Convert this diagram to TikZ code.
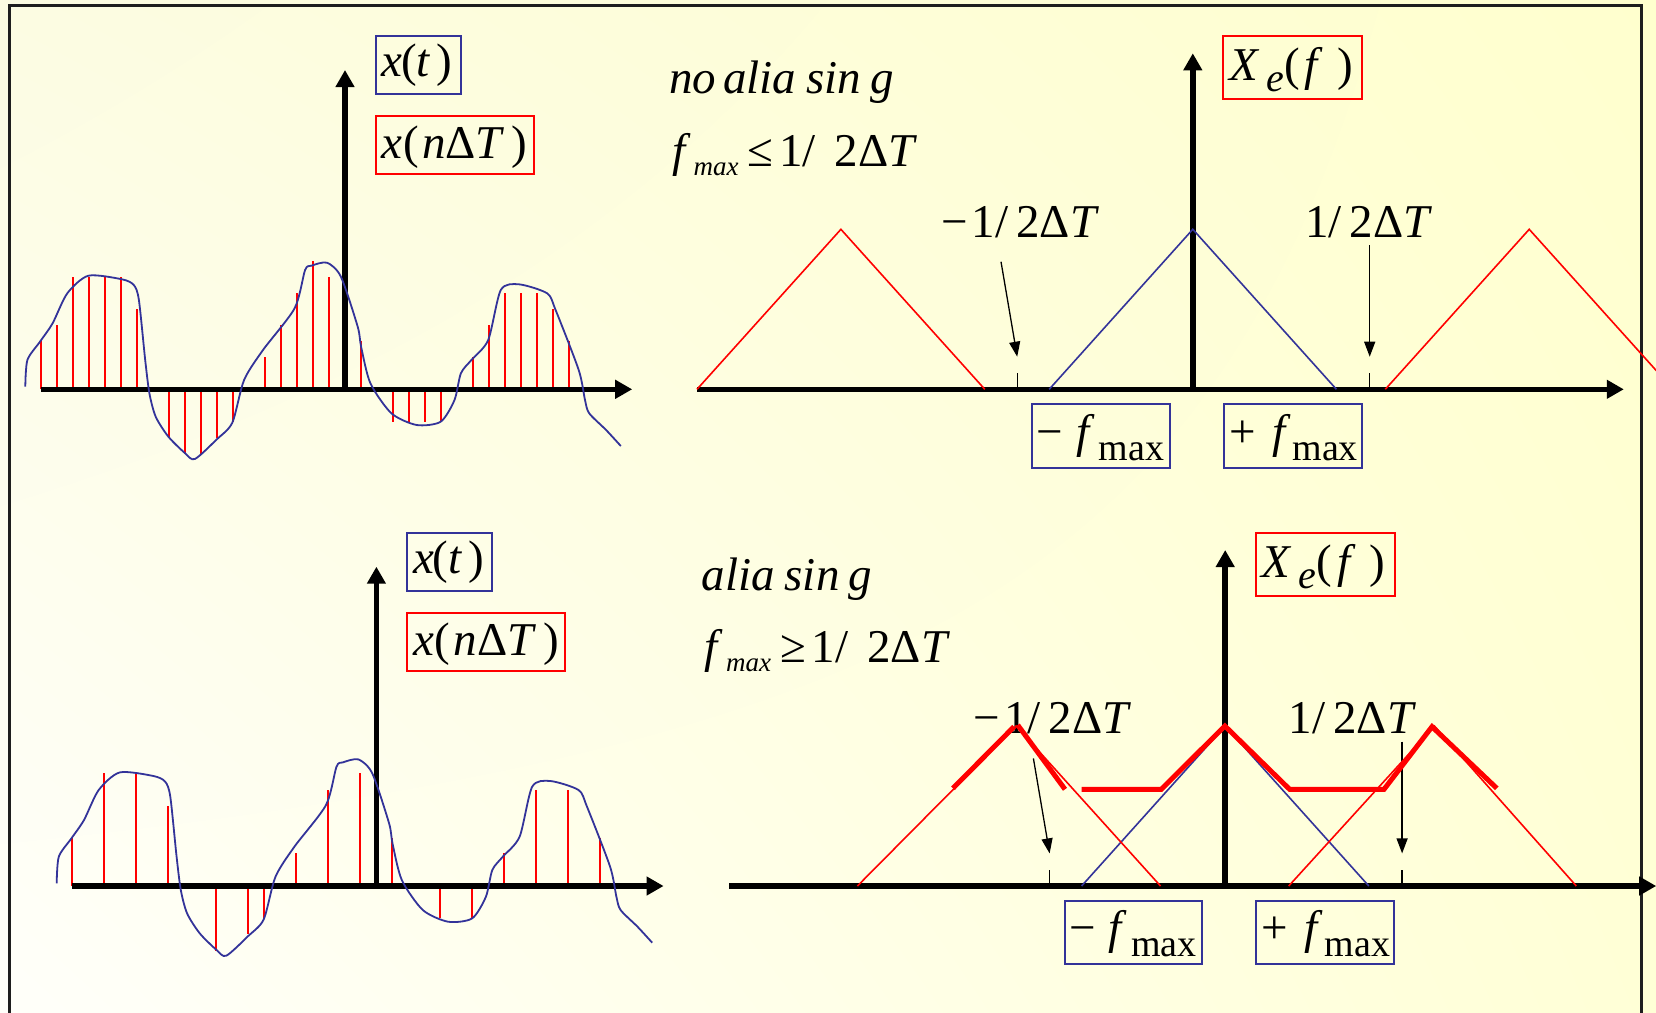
\documentclass[tikz,border=0pt]{standalone}
\usepackage{fontspec}
\setmainfont{Liberation Serif}
\usetikzlibrary{arrows.meta,shadings}
\definecolor{myblue}{RGB}{51,51,153}
\definecolor{myred}{RGB}{255,0,0}
\definecolor{framegray}{RGB}{30,30,30}
\definecolor{bgul}{RGB}{252,252,226}
\definecolor{bgur}{RGB}{255,255,206}
\definecolor{bgll}{RGB}{255,255,250}
\definecolor{bglr}{RGB}{255,255,214}
\newcommand\fz[1]{\fontsize{#1}{#1}\selectfont}
\newcommand\iv[1]{\textit{#1}}

\newcommand\leftpanel[2]{%
  \coordinate (lo#2) at (345,389.3);
  \coordinate (ltop#2) at (345,70);
  \coordinate (lleft#2) at (40.8,389.3);
  \coordinate (lright#2) at (632.2,389.3);
  \foreach \n/\h in {#1}{\draw[stem] ({40.8+16*\n},389.3) -- ({40.8+16*\n},\h);}
  \draw[axis] (lleft#2) -- (lright#2);
  \draw[axis] (lo#2) -- (ltop#2);
  \draw[curve] plot[smooth,tension=0.45] coordinates {(25.3,386.7) (27.4,360) (40,341.7) (52.6,323.3) (67.3,293.3) (88.4,275.7) (122,279.3) (133.8,285) (138.9,300) (145.2,360) (149.4,393.3) (155.7,416.7) (168.4,436.7) (185.2,453.3) (194.9,459) (216.8,439.3) (232.3,422.7) (244.1,380) (263,350) (294.6,308.3) (305.1,270) (311.4,265.7) (327,262.7) (340.9,276.7) (357.7,326.7) (361.1,346.7) (370.4,383.3) (391.4,413.3) (416.7,425) (440.7,421.7) (454.5,400) (460.9,373.3) (471.4,360) (488.2,340) (500.8,290) (518.9,284.3) (547.1,293.3) (555.6,310) (578.7,370) (585,400) (589.2,413.3) (606.1,430) (620.8,446)};
  \node[bluebox,minimum width=85pt,minimum height=58pt] (xtbox#2) at (418.2,65) {};
  \node[lbl] (xt#2) at (381.5,76.7) {\iv{x}\kern-1.5pt(\iv{t}\kern6pt)};
  \node[redbox,minimum width=158.3pt,minimum height=58.3pt] (xnbox#2) at (454.85,145.15) {};
  \node[lbl] (xn#2) at (381.5,158.3) {\iv{x}\kern1pt(\kern3pt\iv{n}Δ\iv{T}\kern7pt)};
}

\newcommand\rightpanel[2]{%
  \coordinate (ro#2) at (1192.8,389.3);
  \coordinate (rtop#2) at (1192.8,53.3);
  \coordinate (rleft#2) at (697,389.3);
  \coordinate (rright#2) at (1623.8,389.3);
  \node[lbl] (mlab#2) at (941.2,237) {−\kern4pt 1/\kern8pt 2Δ\iv{T}};
  \node[lbl] (rel#2) at (672,166) {\iv{f}\kern3pt\raisebox{-9pt}{\fz{27}\iv{max}}\kern9pt #1\kern6pt 1/\kern19pt 2Δ\iv{T}};
  \draw[tickmark] (1017.2,373.3) -- (1017.2,389.3);
  \draw[tickmark] (1369.7,373.3) -- (1369.7,389.3);
  \draw[axis] (rleft#2) -- (rright#2);
  \draw[axis] (ro#2) -- (rtop#2);
  \draw[blueline] (1049.2,389.3) -- (1192.8,229.3) -- (1336.4,389.3);
  \coordinate (pa#2) at (1001,261.7);
  \coordinate (pb#2) at (1017.2,356.7);
  \coordinate (pc#2) at (1369.7,245);
  \coordinate (pd#2) at (1369.7,356.7);
  \draw[pointer] (pa#2) -- (pb#2);
  \draw[pointer] (pc#2) -- (pd#2);
  \node[redbox,minimum width=139pt,minimum height=63.3pt] (xebox#2) at (1292.8,67.65) {};
  \node[lbl] (xe#2) at (1229,80.5) {\iv{X}\kern7pt\raisebox{-11pt}{\fz{40}\iv{e}}(\kern5pt\iv{f}\kern14pt)};
  \node[bluebox,minimum width=137.7pt,minimum height=63.4pt] (fmbox#2) at (1101.15,436) {};
  \node[lbl] (fm#2) at (1036.7,447) {−\kern13pt\iv{f}\kern4pt\raisebox{-13pt}{\fz{38}max}};
  \node[bluebox,minimum width=137.7pt,minimum height=63.4pt] (fpbox#2) at (1292.85,436) {};
  \node[lbl] (fp#2) at (1229.3,447) {+\kern16pt\iv{f}\kern2pt\raisebox{-13pt}{\fz{38}max}};
}

\begin{document}
\begin{tikzpicture}[x=1pt,y=-1pt,
  axis/.style={line width=5.5pt,-{Triangle[length=17pt,width=18pt]}},
  stem/.style={myred,line width=2pt},
  curve/.style={myblue,line width=1.8pt,line join=round},
  blueline/.style={myblue,line width=1.6pt},
  redline/.style={myred,line width=1.6pt},
  thickred/.style={myred,line width=5pt,line join=miter},
  bluebox/.style={draw=myblue,line width=2pt,inner sep=0pt},
  redbox/.style={draw=myred,line width=2pt,inner sep=0pt},
  lbl/.style={inner sep=0pt,anchor=base west,font=\fz{47}},
  pointer/.style={line width=1.3pt,-{Triangle[length=15pt,width=11pt]}},
  tickmark/.style={line width=1.3pt}]
\useasboundingbox (0,0) rectangle (1656,1012);
\clip (0,0) rectangle (1656,1012);
\shade[upper left=bgul,upper right=bgur,lower left=bgll,lower right=bglr] (0,0) rectangle (1656,1012);
\draw[framegray,line width=3pt] (9,1020) -- (9,5.5) -- (1641,5.5) -- (1641,1020);

% top left: x(t) with all samples
\leftpanel{0/341,1/325,2/276.7,3/276.7,4/276.7,5/276.7,6/309,8/437.7,9/454,10/455,11/437.7,12/421.7,14/356.7,15/325,16/293.3,17/261,18/276.7,20/341,22/421.7,23/421.7,24/421.7,25/421.7,27/356.7,28/325,29/293.3,30/293.3,31/293.3,32/309,33/341}{a}

% bottom left: sparser sampling
\begin{scope}[shift={(31.4,496.7)}]
\leftpanel{0/341,2/276.7,4/276.7,6/309,9/454,11/437.7,12/421.7,14/356.7,16/293.3,18/276.7,20/341,23/421.7,25/421.7,27/356.7,29/293.3,31/293.3,33/341}{b}
\end{scope}

% top right: no aliasing
\rightpanel{≤}{a}
\node[lbl] (titlea) at (669,93.3) {\itshape\spaceskip=7pt no alia\kern3pt{} sin\kern2pt{} g};
\node[lbl] (plaba) at (1305,237) {1/\kern8pt 2Δ\iv{T}};
\draw[redline] (697,389.3) -- (840.9,229.3) -- (984.8,389.3);
\draw[redline] (1385.3,389.3) -- (1529.2,229.3) -- (1673.1,389.3);

% bottom right: aliasing
\begin{scope}[shift={(32.4,496.7)}]
\rightpanel{≥}{b}
\node[lbl] (titleb) at (669,93.3) {\itshape\spaceskip=7pt alia\kern3pt{} sin\kern2pt{} g};
\end{scope}
\node[lbl] (plabb) at (1288.5,733.5) {1/\kern8pt 2Δ\iv{T}};
\draw[redline] (857.4,886) -- (1016.1,726) -- (1160.5,886);
\draw[redline] (1288.7,886) -- (1434.4,726) -- (1576.3,886);
\draw[thickred] (952.9,788.3) -- (1014,726.7);
\draw[thickred] (1017.7,725) -- (1065,789.3);
\draw[thickred] (1081.7,789.3) -- (1161.2,789.3) -- (1224.9,726) -- (1289.6,789.3) -- (1384,789.3) -- (1432,726.7) -- (1496.8,788.3);
\end{tikzpicture}
\end{document}
